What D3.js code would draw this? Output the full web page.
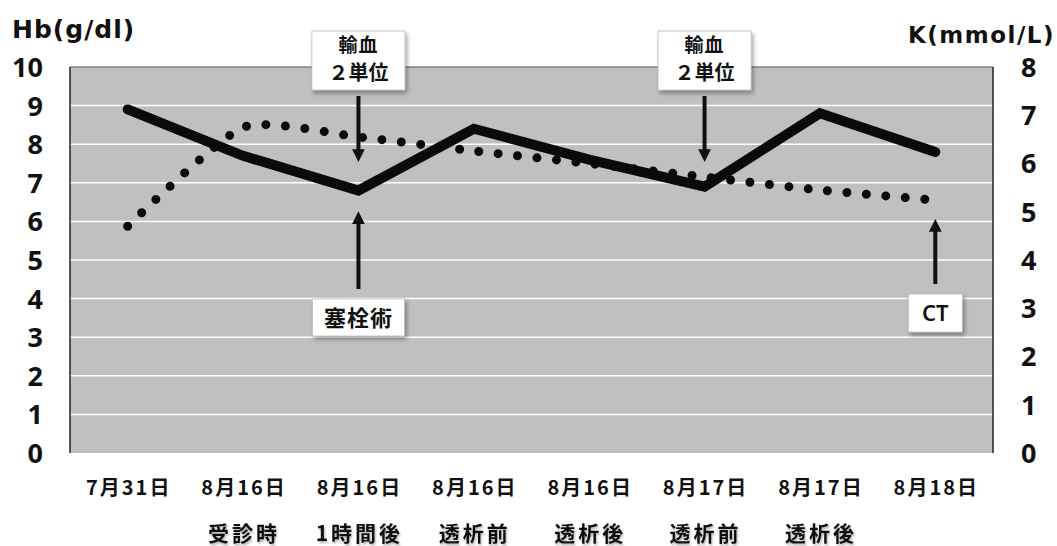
<!DOCTYPE html>
<html><head><meta charset="utf-8">
<script src="https://cdn.jsdelivr.net/npm/d3@7"></script>
<style>body{margin:0;background:#fff;}</style>
</head><body>
<svg id="c" width="1057" height="546"></svg>
<script>
const dates = ["7月31日","8月16日","8月16日","8月16日","8月16日","8月17日","8月17日","8月18日"];
const subLabels = ["","受診時","1時間後","透析前","透析後","透析前","透析後",""];
const hb = [8.9, 7.7, 6.8, 8.4, 7.6, 6.9, 8.8, 7.8];
const kVals = [4.7, 6.75, 6.55, 6.26, 6.0, 5.72, 5.45, 5.24];
const hbTicks = [0,1,2,3,4,5,6,7,8,9,10];
const kTicks = [0,1,2,3,4,5,6,7,8];
const notes = [
  {idx:2, lines:["輸血","２単位"], dir:"down", value:7.6},
  {idx:5, lines:["輸血","２単位"], dir:"down", value:7.6},
  {idx:2, lines:["塞栓術"], dir:"up", value:6.2},
  {idx:7, lines:["CT"], dir:"up", value:6.0}
];

const cjk = "'Noto Sans CJK JP','Noto Sans',sans-serif";
const numFont = "'Noto Sans',sans-serif";
const titleFont = "'DejaVu Sans',sans-serif";

const svg = d3.select("#c");
const L=70, R=993, T=67, B=453;
const x = d3.scaleBand().domain(d3.range(dates.length)).range([L,R]);
const yL = d3.scaleLinear().domain([0,10]).range([B,T]);
const yR = d3.scaleLinear().domain([0,8]).range([B,T]);
const cx = i => x(i)+x.bandwidth()/2;

const defs = svg.append("defs");
const f = defs.append("filter").attr("id","sh").attr("x","-20%").attr("y","-20%").attr("width","150%").attr("height","160%");
f.append("feDropShadow").attr("dx",2).attr("dy",3).attr("stdDeviation",2).attr("flood-color","#000").attr("flood-opacity",0.35);
const ts = defs.append("filter").attr("id","tsh");
ts.append("feDropShadow").attr("dx",1).attr("dy",2).attr("stdDeviation",1.2).attr("flood-color","#000").attr("flood-opacity",0.3);
defs.append("marker").attr("id","ah").attr("viewBox","0 0 10 10").attr("refX",5).attr("refY",5)
  .attr("markerWidth",3.2).attr("markerHeight",3.2).attr("orient","auto")
  .append("path").attr("d","M0,0 L10,5 L0,10 Z").attr("fill","#111");

svg.append("rect").attr("x",L).attr("y",T).attr("width",R-L).attr("height",B-T).attr("fill","#c0c0c0");
svg.append("g").selectAll("line").data(hbTicks.slice(1,-1)).join("line")
  .attr("x1",L).attr("x2",R).attr("y1",d=>yL(d)).attr("y2",d=>yL(d))
  .attr("stroke","#fff").attr("stroke-width",1.5);
svg.append("line").attr("x1",L).attr("x2",R).attr("y1",T).attr("y2",T).attr("stroke","#555").attr("stroke-width",1);
svg.append("line").attr("x1",L).attr("x2",L).attr("y1",T).attr("y2",B).attr("stroke","#222").attr("stroke-width",1.5);
svg.append("line").attr("x1",R).attr("x2",R).attr("y1",T).attr("y2",B).attr("stroke","#222").attr("stroke-width",1.5);

// left axis
const gl = svg.append("g").attr("transform",`translate(${L},0)`)
  .call(d3.axisLeft(yL).tickValues(hbTicks).tickSize(0).tickPadding(27).tickFormat(d3.format("d")));
gl.select(".domain").remove();
gl.selectAll("text").attr("font-size",27).attr("fill","#111").style("font-family",numFont).style("font-weight",700).attr("dy","0.35em");
// right axis
const gr = svg.append("g").attr("transform",`translate(${R},0)`)
  .call(d3.axisRight(yR).tickValues(kTicks).tickSize(0).tickPadding(28).tickFormat(d3.format("d")));
gr.select(".domain").remove();
gr.selectAll("text").attr("font-size",27).attr("fill","#111").style("font-family",numFont).style("font-weight",700).attr("dy","0.35em");

svg.append("text").attr("x",12).attr("y",38).attr("font-size",25).attr("letter-spacing",1)
  .style("font-family",titleFont).style("font-weight",700).attr("fill","#111").text("Hb(g/dl)");
svg.append("text").attr("x",1055).attr("y",43).attr("text-anchor","end").attr("font-size",23).attr("letter-spacing",1.5)
  .style("font-family",titleFont).style("font-weight",700).attr("fill","#111").text("K(mmol/L)");

// x labels
svg.append("g").selectAll("text").data(dates).join("text")
  .attr("x",(d,i)=>cx(i)+1).attr("y",495).attr("text-anchor","middle").attr("font-size",20).attr("letter-spacing",2)
  .style("font-family",cjk).style("font-weight",700).attr("fill","#111").text(d=>d);
svg.append("g").selectAll("text").data(subLabels).join("text")
  .attr("x",(d,i)=>cx(i)+1).attr("y",541).attr("text-anchor","middle").attr("font-size",21).attr("letter-spacing",3)
  .style("font-family",cjk).style("font-weight",700).attr("fill","#111").attr("filter","url(#tsh)").text(d=>d);

// K dotted smooth
svg.append("path").datum(kVals)
  .attr("d", d3.line().x((d,i)=>cx(i)).y(d=>yR(d)).curve(d3.curveCardinal.tension(0.4)))
  .attr("fill","none").attr("stroke","#0a0a0a").attr("stroke-width",9)
  .attr("stroke-linecap","round").attr("stroke-dasharray","0 19.5");
// Hb solid
svg.append("path").datum(hb)
  .attr("d", d3.line().x((d,i)=>cx(i)).y(d=>yL(d)))
  .attr("fill","none").attr("stroke","#0a0a0a").attr("stroke-width",10)
  .attr("stroke-linecap","round").attr("stroke-linejoin","miter");

// annotations
notes.forEach(n=>{
  const ax = cx(n.idx);
  const g = svg.append("g");
  if(n.dir==="down"){
    const bw=93, bh=59, by=31;
    g.append("rect").attr("x",ax-bw/2).attr("y",by).attr("width",bw).attr("height",bh)
      .attr("fill","#fff").attr("stroke","#bbb").attr("stroke-width",0.8).attr("filter","url(#sh)");
    g.append("text").attr("x",ax).attr("y",by+21).attr("text-anchor","middle").attr("font-size",19).attr("letter-spacing",1)
      .style("font-family",cjk).style("font-weight",700).attr("fill","#111").text(n.lines[0]);
    g.append("text").attr("x",ax).attr("y",by+49).attr("text-anchor","middle").attr("font-size",20)
      .style("font-family",cjk).style("font-weight",700).attr("fill","#111").text(n.lines[1]);
    g.append("line").attr("x1",ax).attr("x2",ax).attr("y1",96).attr("y2",yL(n.value)-4)
      .attr("stroke","#111").attr("stroke-width",4).attr("marker-end","url(#ah)");
  } else {
    const txt = n.lines[0];
    const isCT = txt==="CT";
    const bw = isCT?54:92, bh = isCT?38:37;
    const by = isCT?294:299;
    g.append("rect").attr("x",ax-bw/2).attr("y",by).attr("width",bw).attr("height",bh)
      .attr("fill","#fff").attr("stroke","#bbb").attr("stroke-width",0.8).attr("filter","url(#sh)");
    g.append("text").attr("x",ax).attr("y",by+bh/2+8).attr("text-anchor","middle")
      .attr("font-size",22).attr("letter-spacing",isCT?0:1)
      .style("font-family",isCT?numFont:cjk).style("font-weight",isCT?600:700)
      .attr("fill","#111").text(txt);
    g.append("line").attr("x1",ax).attr("x2",ax).attr("y1",by-10).attr("y2",yL(n.value)+4)
      .attr("stroke","#111").attr("stroke-width",4).attr("marker-end","url(#ah)");
  }
});
</script>
</body></html>
